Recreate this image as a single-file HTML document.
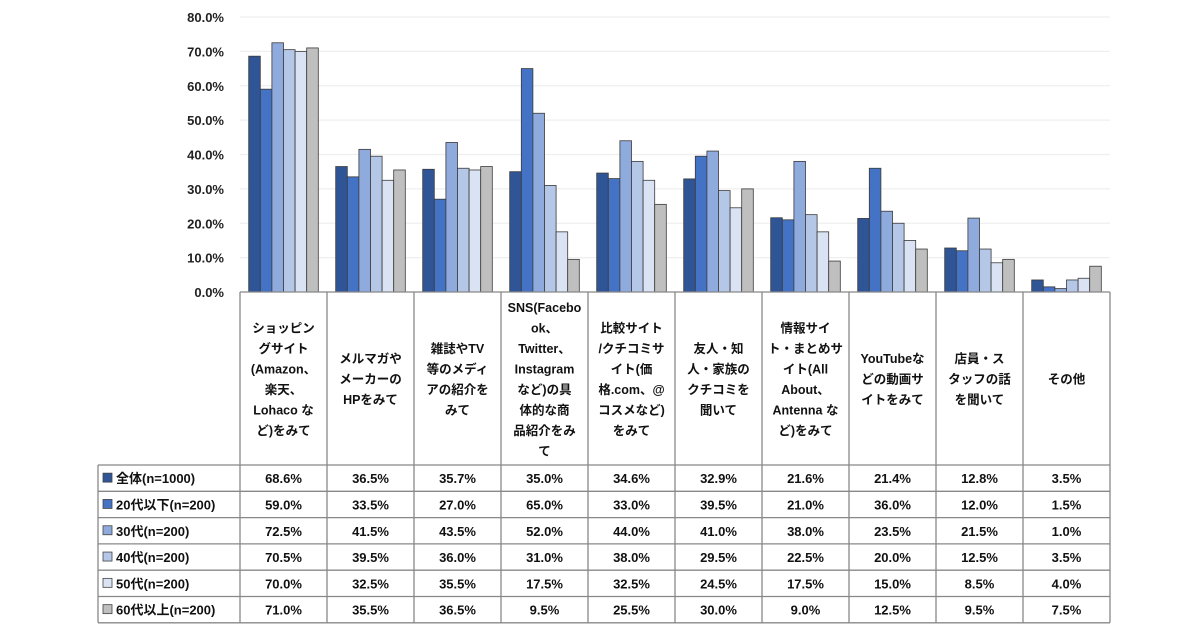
<!DOCTYPE html>
<html><head><meta charset="utf-8"><style>
html,body{margin:0;padding:0;background:#fff;}
svg{display:block;font-family:"Liberation Sans","Noto Sans CJK JP",sans-serif;font-weight:bold;}
</style></head><body>
<svg id="chart" width="1200" height="630"></svg>
<script>
const categories=[
 ["ショッピン","グサイト","(Amazon、","楽天、","Lohaco な","ど)をみて"],
 ["メルマガや","メーカーの","HPをみて"],
 ["雑誌やTV","等のメディ","アの紹介を","みて"],
 ["SNS(Facebo","ok、","Twitter、","Instagram","など)の具","体的な商","品紹介をみ","て"],
 ["比較サイト","/クチコミサ","イト(価","格.com、@","コスメなど)","をみて"],
 ["友人・知","人・家族の","クチコミを","聞いて"],
 ["情報サイ","ト・まとめサ","イト(All","About、","Antenna な","ど)をみて"],
 ["YouTubeな","どの動画サ","イトをみて"],
 ["店員・ス","タッフの話","を聞いて"],
 ["その他"]
];
const seriesNames=["全体(n=1000)","20代以下(n=200)","30代(n=200)","40代(n=200)","50代(n=200)","60代以上(n=200)"];
const sAll=[68.6,36.5,35.7,35.0,34.6,32.9,21.6,21.4,12.8,3.5];
const s20=[59.0,33.5,27.0,65.0,33.0,39.5,21.0,36.0,12.0,1.5];
const s30=[72.5,41.5,43.5,52.0,44.0,41.0,38.0,23.5,21.5,1.0];
const s40=[70.5,39.5,36.0,31.0,38.0,29.5,22.5,20.0,12.5,3.5];
const s50=[70.0,32.5,35.5,17.5,32.5,24.5,17.5,15.0,8.5,4.0];
const s60=[71.0,35.5,36.5,9.5,25.5,30.0,9.0,12.5,9.5,7.5];
const yTicks=[0,10,20,30,40,50,60,70,80];
const series=[sAll,s20,s30,s40,s50,s60];
const colors=["#2f5597","#4472c4","#8faadc","#b4c7e7","#dae3f3","#bfbfbf"];
const NS="http://www.w3.org/2000/svg";
const svg=document.getElementById('chart');
const X0=240,X1=1110,Y0=292,YT=17,headBot=465,rowH=26.3,legX=98;
const cw=(X1-X0)/categories.length;
const y=v=>Y0-(v/80)*(Y0-YT);
const xc=i=>X0+i*cw;
function el(t,a){const e=document.createElementNS(NS,t);for(const k in a)e.setAttribute(k,a[k]);svg.appendChild(e);return e;}
yTicks.forEach(t=>{
 if(t>0){const g=el('line',{x1:X0,x2:X1,y1:y(t),y2:y(t),stroke:'#efefef','stroke-width':1.2});
 
 }
 const l=el('text',{x:224,y:y(t)+5,'text-anchor':'end','font-size':13,fill:'#222'});
 l.textContent=t.toFixed(1)+'%';
 
 
});
const bw=11.6,gOff=(cw-bw*6)/2;
series.forEach((s,si)=>{
 s.forEach((v,ci)=>{
  const r=el('rect',{x:xc(ci)+gOff+si*bw,y:y(v),width:bw,height:Y0-y(v),fill:colors[si],stroke:'#3a3a3a','stroke-width':0.8});
  
  
 });
});
// header table
const grid='#888';
function ln(x1,y1,x2,y2,name){const l=el('line',{x1,y1,x2,y2,stroke:grid,'stroke-width':1.3});}
ln(X0,Y0,X1,Y0,'x-axis-line');
for(let i=0;i<=categories.length;i++) ln(xc(i),Y0,xc(i),headBot+rowH*6,'table-column-line');
categories.forEach((c,ci)=>{
 const lh=20.5,mid=(Y0+headBot)/2,start=mid-(c.length-1)*lh/2;
 c.forEach((t,li)=>{
  const tx=el('text',{x:xc(ci)+cw/2,y:start+li*lh+5,'text-anchor':'middle','font-size':12.5,fill:'#111'});
  tx.textContent=t;
  
  
 });
});
for(let r=0;r<=6;r++) ln(legX,headBot+r*rowH,X1,headBot+r*rowH,'table-row-line');
ln(legX,headBot,legX,headBot+rowH*6,'table-left-line');
series.forEach((s,si)=>{
 const cy=headBot+si*rowH+rowH/2;
 const k=el('rect',{x:legX+5,y:cy-5,width:9,height:9,fill:colors[si],stroke:'#444','stroke-width':0.8});
 
 
 const n=el('text',{x:legX+18,y:cy+5,'font-size':13,fill:'#111'});
 n.textContent=seriesNames[si];
 
 
 s.forEach((v,ci)=>{
  const t=el('text',{x:xc(ci)+cw/2,y:cy+5,'text-anchor':'middle','font-size':13,fill:'#111'});
  t.textContent=v.toFixed(1)+'%';
  
  
 });
});
</script>
</body></html>
